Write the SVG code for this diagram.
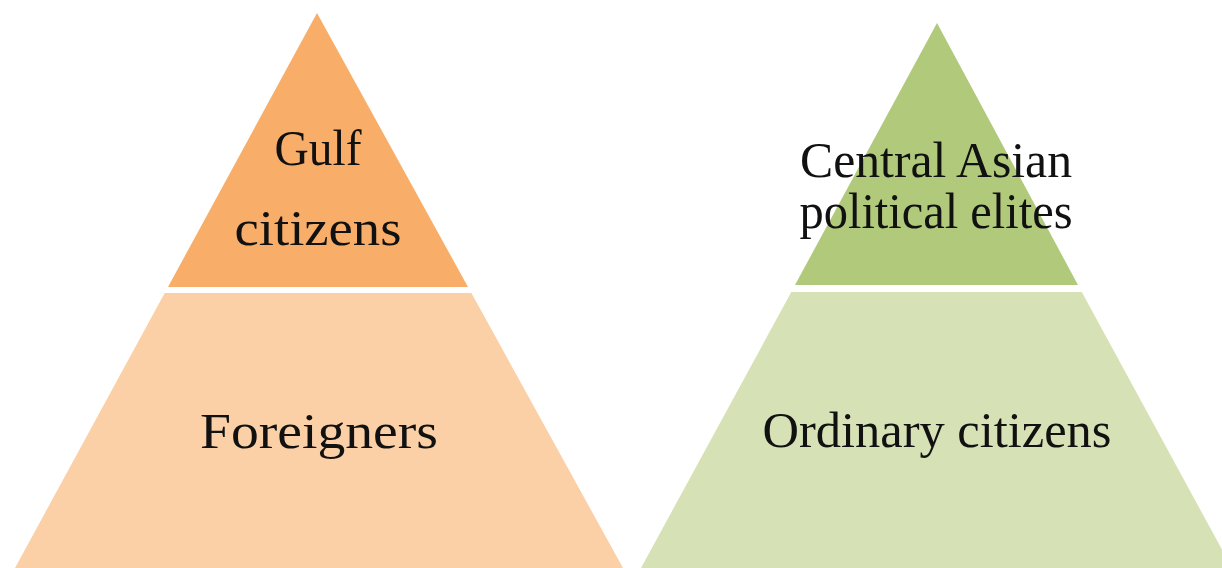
<svg xmlns="http://www.w3.org/2000/svg" width="1222" height="568" viewBox="0 0 1222 568">
  <style>
    .lbl { font-family: "Liberation Serif", "DejaVu Serif", serif; font-size: 50px; fill: #111; text-anchor: middle; }
    .org-top { fill: #F8AE68; }
    .org-bot { fill: #FBD0A6; }
    .grn-top { fill: #B1C97B; }
    .grn-bot { fill: #D6E2B5; }
  </style>
  <rect width="1222" height="568" fill="#FFFFFF"/>
  <g id="gulf-citizens">
    <polygon class="org-top" points="317,13 168,287 468,287"/>
    <text class="lbl" x="318" y="165" textLength="87" lengthAdjust="spacingAndGlyphs">Gulf</text>
    <text class="lbl" x="318" y="245" textLength="167" lengthAdjust="spacingAndGlyphs">citizens</text>
  </g>
  <g id="foreigners">
    <polygon class="org-bot" points="164.7,293 471.4,293 623,568 15,568"/>
    <text class="lbl" x="319" y="448" textLength="238" lengthAdjust="spacingAndGlyphs">Foreigners</text>
  </g>
  <g id="central-asian-elites">
    <polygon class="grn-top" points="937,23 795,285 1078,285"/>
    <text class="lbl" x="936" y="177" textLength="272" lengthAdjust="spacingAndGlyphs">Central Asian</text>
    <text class="lbl" x="936" y="228" textLength="273" lengthAdjust="spacingAndGlyphs">political elites</text>
  </g>
  <g id="ordinary-citizens">
    <polygon class="grn-bot" points="791.3,292 1081.8,292 1232,568 641,568"/>
    <text class="lbl" x="937" y="447" textLength="349" lengthAdjust="spacingAndGlyphs">Ordinary citizens</text>
  </g>
  <g id="connectors"/>
</svg>
